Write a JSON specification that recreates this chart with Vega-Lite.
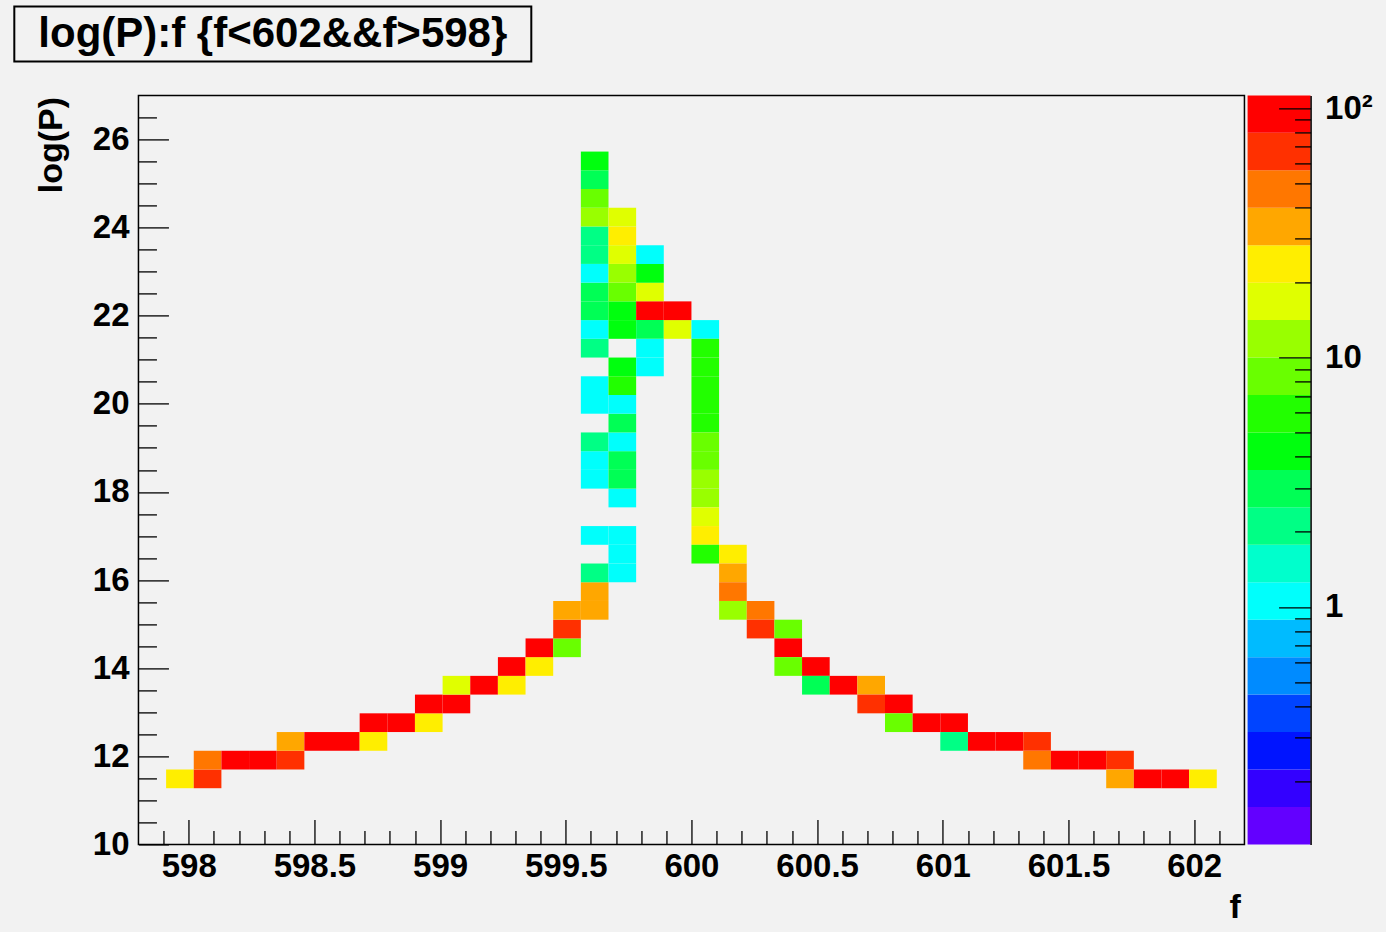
{
  "$schema": "https://vega.github.io/schema/vega-lite/v6.json",
  "background": "#f2f2f2",
  "padding": {"left": 13.3, "top": 5.4, "right": 14, "bottom": 7},
  "config": {
    "font": "Liberation Sans",
    "view": {"stroke": null},
    "axis": {
      "grid": false,
      "labelFont": "Liberation Sans", "labelFontWeight": "bold", "labelFontSize": 33, "labelColor": "#000",
      "titleFont": "Liberation Sans", "titleFontWeight": "bold", "titleFontSize": 34, "titleColor": "#000",
      "tickColor": "#000", "tickWidth": 1.3, "domainColor": "#000",
      "labelOverlap": false, "labelFlush": false, "labelBound": false
    }
  },
  "datasets": {
    "cells": [
      {"f0":597.91,"f1":598.02,"p0":11.275,"p1":11.7,"n":24},
      {"f0":598.02,"f1":598.13,"p0":11.275,"p1":11.7,"n":67},
      {"f0":598.02,"f1":598.13,"p0":11.7,"p1":12.125,"n":48},
      {"f0":598.13,"f1":598.24,"p0":11.7,"p1":12.125,"n":95},
      {"f0":598.24,"f1":598.35,"p0":11.7,"p1":12.125,"n":95},
      {"f0":598.35,"f1":598.46,"p0":11.7,"p1":12.125,"n":67},
      {"f0":598.35,"f1":598.46,"p0":12.125,"p1":12.55,"n":34},
      {"f0":598.46,"f1":598.57,"p0":12.125,"p1":12.55,"n":95},
      {"f0":598.57,"f1":598.68,"p0":12.125,"p1":12.55,"n":95},
      {"f0":598.68,"f1":598.79,"p0":12.125,"p1":12.55,"n":24},
      {"f0":598.68,"f1":598.79,"p0":12.55,"p1":12.975,"n":95},
      {"f0":598.79,"f1":598.9,"p0":12.55,"p1":12.975,"n":95},
      {"f0":598.9,"f1":599.01,"p0":12.55,"p1":12.975,"n":24},
      {"f0":598.9,"f1":599.01,"p0":12.975,"p1":13.4,"n":95},
      {"f0":599.01,"f1":599.12,"p0":12.975,"p1":13.4,"n":95},
      {"f0":599.01,"f1":599.12,"p0":13.4,"p1":13.825,"n":17},
      {"f0":599.12,"f1":599.23,"p0":13.4,"p1":13.825,"n":95},
      {"f0":599.23,"f1":599.34,"p0":13.4,"p1":13.825,"n":24},
      {"f0":599.23,"f1":599.34,"p0":13.825,"p1":14.25,"n":95},
      {"f0":599.34,"f1":599.45,"p0":13.825,"p1":14.25,"n":24},
      {"f0":599.34,"f1":599.45,"p0":14.25,"p1":14.675,"n":95},
      {"f0":599.45,"f1":599.56,"p0":14.25,"p1":14.675,"n":8},
      {"f0":599.45,"f1":599.56,"p0":14.675,"p1":15.1,"n":67},
      {"f0":599.45,"f1":599.56,"p0":15.1,"p1":15.525,"n":34},
      {"f0":599.56,"f1":599.67,"p0":15.1,"p1":15.525,"n":34},
      {"f0":599.56,"f1":599.67,"p0":15.525,"p1":15.95,"n":34},
      {"f0":599.56,"f1":599.67,"p0":15.95,"p1":16.375,"n":2},
      {"f0":599.67,"f1":599.78,"p0":15.95,"p1":16.375,"n":1},
      {"f0":599.67,"f1":599.78,"p0":16.375,"p1":16.8,"n":1},
      {"f0":599.56,"f1":599.67,"p0":16.8,"p1":17.225,"n":1},
      {"f0":599.67,"f1":599.78,"p0":16.8,"p1":17.225,"n":1},
      {"f0":599.67,"f1":599.78,"p0":17.65,"p1":18.075,"n":1},
      {"f0":599.56,"f1":599.67,"p0":18.075,"p1":18.5,"n":1},
      {"f0":599.67,"f1":599.78,"p0":18.075,"p1":18.5,"n":3},
      {"f0":599.56,"f1":599.67,"p0":18.5,"p1":18.925,"n":1},
      {"f0":599.67,"f1":599.78,"p0":18.5,"p1":18.925,"n":3},
      {"f0":599.56,"f1":599.67,"p0":18.925,"p1":19.35,"n":2},
      {"f0":599.67,"f1":599.78,"p0":18.925,"p1":19.35,"n":1},
      {"f0":599.67,"f1":599.78,"p0":19.35,"p1":19.775,"n":3},
      {"f0":599.56,"f1":599.67,"p0":19.775,"p1":20.2,"n":1},
      {"f0":599.67,"f1":599.78,"p0":19.775,"p1":20.2,"n":1},
      {"f0":599.56,"f1":599.67,"p0":20.2,"p1":20.625,"n":1},
      {"f0":599.67,"f1":599.78,"p0":20.2,"p1":20.625,"n":6},
      {"f0":599.67,"f1":599.78,"p0":20.625,"p1":21.05,"n":4},
      {"f0":599.78,"f1":599.89,"p0":20.625,"p1":21.05,"n":1},
      {"f0":599.56,"f1":599.67,"p0":21.05,"p1":21.475,"n":2},
      {"f0":599.78,"f1":599.89,"p0":21.05,"p1":21.475,"n":1},
      {"f0":599.56,"f1":599.67,"p0":21.475,"p1":21.9,"n":1},
      {"f0":599.67,"f1":599.78,"p0":21.475,"p1":21.9,"n":4},
      {"f0":599.78,"f1":599.89,"p0":21.475,"p1":21.9,"n":3},
      {"f0":599.89,"f1":600.0,"p0":21.475,"p1":21.9,"n":17},
      {"f0":600.0,"f1":600.11,"p0":21.475,"p1":21.9,"n":1},
      {"f0":599.56,"f1":599.67,"p0":21.9,"p1":22.325,"n":3},
      {"f0":599.67,"f1":599.78,"p0":21.9,"p1":22.325,"n":4},
      {"f0":599.78,"f1":599.89,"p0":21.9,"p1":22.325,"n":95},
      {"f0":599.89,"f1":600.0,"p0":21.9,"p1":22.325,"n":95},
      {"f0":599.56,"f1":599.67,"p0":22.325,"p1":22.75,"n":3},
      {"f0":599.67,"f1":599.78,"p0":22.325,"p1":22.75,"n":8},
      {"f0":599.78,"f1":599.89,"p0":22.325,"p1":22.75,"n":17},
      {"f0":599.56,"f1":599.67,"p0":22.75,"p1":23.175,"n":1},
      {"f0":599.67,"f1":599.78,"p0":22.75,"p1":23.175,"n":12},
      {"f0":599.78,"f1":599.89,"p0":22.75,"p1":23.175,"n":4},
      {"f0":599.56,"f1":599.67,"p0":23.175,"p1":23.6,"n":2},
      {"f0":599.67,"f1":599.78,"p0":23.175,"p1":23.6,"n":17},
      {"f0":599.78,"f1":599.89,"p0":23.175,"p1":23.6,"n":1},
      {"f0":599.56,"f1":599.67,"p0":23.6,"p1":24.025,"n":2},
      {"f0":599.67,"f1":599.78,"p0":23.6,"p1":24.025,"n":24},
      {"f0":599.56,"f1":599.67,"p0":24.025,"p1":24.45,"n":12},
      {"f0":599.67,"f1":599.78,"p0":24.025,"p1":24.45,"n":17},
      {"f0":599.56,"f1":599.67,"p0":24.45,"p1":24.875,"n":8},
      {"f0":599.56,"f1":599.67,"p0":24.875,"p1":25.3,"n":3},
      {"f0":599.56,"f1":599.67,"p0":25.3,"p1":25.725,"n":4},
      {"f0":600.0,"f1":600.11,"p0":21.05,"p1":21.475,"n":6},
      {"f0":600.0,"f1":600.11,"p0":20.625,"p1":21.05,"n":6},
      {"f0":600.0,"f1":600.11,"p0":20.2,"p1":20.625,"n":6},
      {"f0":600.0,"f1":600.11,"p0":19.775,"p1":20.2,"n":6},
      {"f0":600.0,"f1":600.11,"p0":19.35,"p1":19.775,"n":6},
      {"f0":600.0,"f1":600.11,"p0":18.925,"p1":19.35,"n":8},
      {"f0":600.0,"f1":600.11,"p0":18.5,"p1":18.925,"n":8},
      {"f0":600.0,"f1":600.11,"p0":18.075,"p1":18.5,"n":12},
      {"f0":600.0,"f1":600.11,"p0":17.65,"p1":18.075,"n":12},
      {"f0":600.0,"f1":600.11,"p0":17.225,"p1":17.65,"n":17},
      {"f0":600.0,"f1":600.11,"p0":16.8,"p1":17.225,"n":24},
      {"f0":600.0,"f1":600.11,"p0":16.375,"p1":16.8,"n":6},
      {"f0":600.11,"f1":600.22,"p0":16.375,"p1":16.8,"n":24},
      {"f0":600.11,"f1":600.22,"p0":15.95,"p1":16.375,"n":34},
      {"f0":600.11,"f1":600.22,"p0":15.525,"p1":15.95,"n":48},
      {"f0":600.11,"f1":600.22,"p0":15.1,"p1":15.525,"n":12},
      {"f0":600.22,"f1":600.33,"p0":15.1,"p1":15.525,"n":48},
      {"f0":600.22,"f1":600.33,"p0":14.675,"p1":15.1,"n":67},
      {"f0":600.33,"f1":600.44,"p0":14.675,"p1":15.1,"n":8},
      {"f0":600.33,"f1":600.44,"p0":14.25,"p1":14.675,"n":95},
      {"f0":600.33,"f1":600.44,"p0":13.825,"p1":14.25,"n":8},
      {"f0":600.44,"f1":600.55,"p0":13.825,"p1":14.25,"n":95},
      {"f0":600.44,"f1":600.55,"p0":13.4,"p1":13.825,"n":3},
      {"f0":600.55,"f1":600.66,"p0":13.4,"p1":13.825,"n":95},
      {"f0":600.66,"f1":600.77,"p0":13.4,"p1":13.825,"n":34},
      {"f0":600.66,"f1":600.77,"p0":12.975,"p1":13.4,"n":67},
      {"f0":600.77,"f1":600.88,"p0":12.975,"p1":13.4,"n":95},
      {"f0":600.77,"f1":600.88,"p0":12.55,"p1":12.975,"n":8},
      {"f0":600.88,"f1":600.99,"p0":12.55,"p1":12.975,"n":95},
      {"f0":600.99,"f1":601.1,"p0":12.55,"p1":12.975,"n":95},
      {"f0":600.99,"f1":601.1,"p0":12.125,"p1":12.55,"n":2},
      {"f0":601.1,"f1":601.21,"p0":12.125,"p1":12.55,"n":95},
      {"f0":601.21,"f1":601.32,"p0":12.125,"p1":12.55,"n":95},
      {"f0":601.32,"f1":601.43,"p0":12.125,"p1":12.55,"n":67},
      {"f0":601.32,"f1":601.43,"p0":11.7,"p1":12.125,"n":48},
      {"f0":601.43,"f1":601.54,"p0":11.7,"p1":12.125,"n":95},
      {"f0":601.54,"f1":601.65,"p0":11.7,"p1":12.125,"n":95},
      {"f0":601.65,"f1":601.76,"p0":11.7,"p1":12.125,"n":67},
      {"f0":601.65,"f1":601.76,"p0":11.275,"p1":11.7,"n":34},
      {"f0":601.76,"f1":601.87,"p0":11.275,"p1":11.7,"n":95},
      {"f0":601.87,"f1":601.98,"p0":11.275,"p1":11.7,"n":95},
      {"f0":601.98,"f1":602.09,"p0":11.275,"p1":11.7,"n":24}
    ],
    "palette": [
      {"lo":0.111686,"hi":0.157815},
      {"lo":0.157815,"hi":0.222997},
      {"lo":0.222997,"hi":0.315101},
      {"lo":0.315101,"hi":0.445246},
      {"lo":0.445246,"hi":0.629144},
      {"lo":0.629144,"hi":0.888996},
      {"lo":0.888996,"hi":1.256175},
      {"lo":1.256175,"hi":1.775007},
      {"lo":1.775007,"hi":2.508131},
      {"lo":2.508131,"hi":3.54405},
      {"lo":3.54405,"hi":5.007833},
      {"lo":5.007833,"hi":7.076201},
      {"lo":7.076201,"hi":9.99885},
      {"lo":9.99885,"hi":14.12863},
      {"lo":14.12863,"hi":19.96411},
      {"lo":19.96411,"hi":28.20979},
      {"lo":28.20979,"hi":39.8611},
      {"lo":39.8611,"hi":56.32484},
      {"lo":56.32484,"hi":79.58843},
      {"lo":79.58843,"hi":112.4604}
    ],
    "title": [{"t": "log(P):f {f<602&&f>598}"}],
    "blank": []
  },
  "spacing": 29,
  "resolve": {"scale": {"color": "shared"}},
  "vconcat": [
    {
      "width": 517,
      "height": 55,
      "data": {"name": "title"},
      "view": {"stroke": "#000", "strokeWidth": 2, "fill": "#f2f2f2"},
      "mark": {"type": "text", "font": "Liberation Sans", "fontSize": 42, "fontWeight": "bold", "color": "#000", "align": "center", "baseline": "middle"},
      "encoding": {
        "x": {"datum": 0.5, "type": "quantitative", "scale": {"domain": [0, 1]}, "axis": null},
        "y": {"datum": 0.5, "type": "quantitative", "scale": {"domain": [0, 1]}, "axis": null},
        "text": {"field": "t", "type": "nominal"}
      }
    },
    {
      "spacing": 2.15,
      "hconcat": [
        {
          "width": 119.7,
          "height": 749,
          "data": {"name": "blank"},
          "mark": {"type": "point"},
          "encoding": {
            "x": {"datum": 0, "type": "quantitative", "axis": null},
            "y": {
              "datum": 10, "type": "quantitative",
              "scale": {"domain": [10, 27], "nice": false, "zero": false},
              "axis": {
                "orient": "left", "offset": -119.7,
                "values": [10, 12, 14, 16, 18, 20, 22, 24, 26],
                "format": "~g", "ticks": false, "labelPadding": 5, "domain": false,
                "title": "log(P)", "titleAngle": 270, "titleX": -100, "titleY": 1, "titleAlign": "right", "titleBaseline": "top"
              }
            }
          }
        },
        {
          "width": 1106,
          "height": 749,
          "data": {"name": "cells"},
          "view": {"stroke": "#000", "strokeWidth": 1.5},
          "mark": {"type": "rect"},
          "encoding": {
            "x": {
              "field": "f0", "type": "quantitative",
              "scale": {"domain": [597.8, 602.2], "nice": false, "zero": false},
              "axis": {
                "orient": "bottom",
                "values": [597.9, 598, 598.1, 598.2, 598.3, 598.4, 598.5, 598.6, 598.7, 598.8, 598.9, 599, 599.1, 599.2, 599.3, 599.4, 599.5, 599.6, 599.7, 599.8, 599.9, 600, 600.1, 600.2, 600.3, 600.4, 600.5, 600.6, 600.7, 600.8, 600.9, 601, 601.1, 601.2, 601.3, 601.4, 601.5, 601.6, 601.7, 601.8, 601.9, 602, 602.1],
                "labelExpr": "abs(datum.value*2 - round(datum.value*2)) < 0.001 ? format(datum.value, '~g') : ''",
                "tickSize": {"condition": {"test": "abs(datum.value*2 - round(datum.value*2)) < 0.001", "value": -25}, "value": -14},
                "labelPadding": 31, "domain": false, "zindex": 1,
                "title": "f", "titleX": 1102, "titleY": 46, "titleAlign": "right", "titleBaseline": "top", "titleAngle": 0
              }
            },
            "x2": {"field": "f1"},
            "y": {
              "field": "p0", "type": "quantitative",
              "scale": {"domain": [10, 27], "nice": false, "zero": false},
              "axis": {
                "orient": "left",
                "values": [10, 10.5, 11, 11.5, 12, 12.5, 13, 13.5, 14, 14.5, 15, 15.5, 16, 16.5, 17, 17.5, 18, 18.5, 19, 19.5, 20, 20.5, 21, 21.5, 22, 22.5, 23, 23.5, 24, 24.5, 25, 25.5, 26, 26.5],
                "labels": false,
                "tickSize": {"condition": {"test": "abs(datum.value/2 - round(datum.value/2)) < 0.001", "value": -30}, "value": -18},
                "domain": false, "zindex": 1, "title": null
              }
            },
            "y2": {"field": "p1"},
            "color": {
              "field": "n", "type": "quantitative", "legend": null,
              "scale": {
                "type": "threshold",
                "domain": [0.157815, 0.222997, 0.315101, 0.445246, 0.629144, 0.888996, 1.256175, 1.775007, 2.508131, 3.54405, 5.007833, 7.076201, 9.99885, 14.12863, 19.96411, 28.20979, 39.8611, 56.32484, 79.58843],
                "range": ["#6300ff", "#3300ff", "#0014ff", "#0044ff", "#008bff", "#00bbff", "#00fffc", "#00ffcc", "#00ff85", "#00ff55", "#00ff0e", "#22ff00", "#69ff00", "#99ff00", "#e0ff00", "#ffee00", "#ffa700", "#ff7700", "#ff3000", "#ff0000"]
              }
            }
          }
        },
        {
          "width": 63,
          "height": 749,
          "data": {"name": "palette"},
          "mark": {"type": "rect"},
          "encoding": {
            "x": {"datum": 0, "type": "quantitative", "scale": {"domain": [0, 1], "nice": false, "zero": false}, "axis": null},
            "x2": {"datum": 1},
            "y": {
              "field": "lo", "type": "quantitative",
              "scale": {"type": "log", "domain": [0.111686, 112.4604], "nice": false, "zero": false},
              "axis": {
                "orient": "right",
                "values": [0.2, 0.3, 0.4, 0.5, 0.6, 0.7, 0.8, 0.9, 1, 2, 3, 4, 5, 6, 7, 8, 9, 10, 20, 30, 40, 50, 60, 70, 80, 90, 100],
                "labelExpr": "datum.value == 100 ? '10²' : (datum.value == 10 || datum.value == 1) ? format(datum.value, '~g') : ''",
                "tickSize": {"condition": {"test": "datum.value == 1 || datum.value == 10 || datum.value == 100", "value": -32}, "value": -16},
                "labelPadding": 46, "labelAlign": "left",
                "domain": true, "domainWidth": 1.5, "title": null, "zindex": 1
              }
            },
            "y2": {"field": "hi"},
            "color": {
              "field": "lo", "type": "quantitative", "legend": null,
              "scale": {
                "type": "threshold",
                "domain": [0.157815, 0.222997, 0.315101, 0.445246, 0.629144, 0.888996, 1.256175, 1.775007, 2.508131, 3.54405, 5.007833, 7.076201, 9.99885, 14.12863, 19.96411, 28.20979, 39.8611, 56.32484, 79.58843],
                "range": ["#6300ff", "#3300ff", "#0014ff", "#0044ff", "#008bff", "#00bbff", "#00fffc", "#00ffcc", "#00ff85", "#00ff55", "#00ff0e", "#22ff00", "#69ff00", "#99ff00", "#e0ff00", "#ffee00", "#ffa700", "#ff7700", "#ff3000", "#ff0000"]
              }
            }
          }
        }
      ]
    }
  ]
}
